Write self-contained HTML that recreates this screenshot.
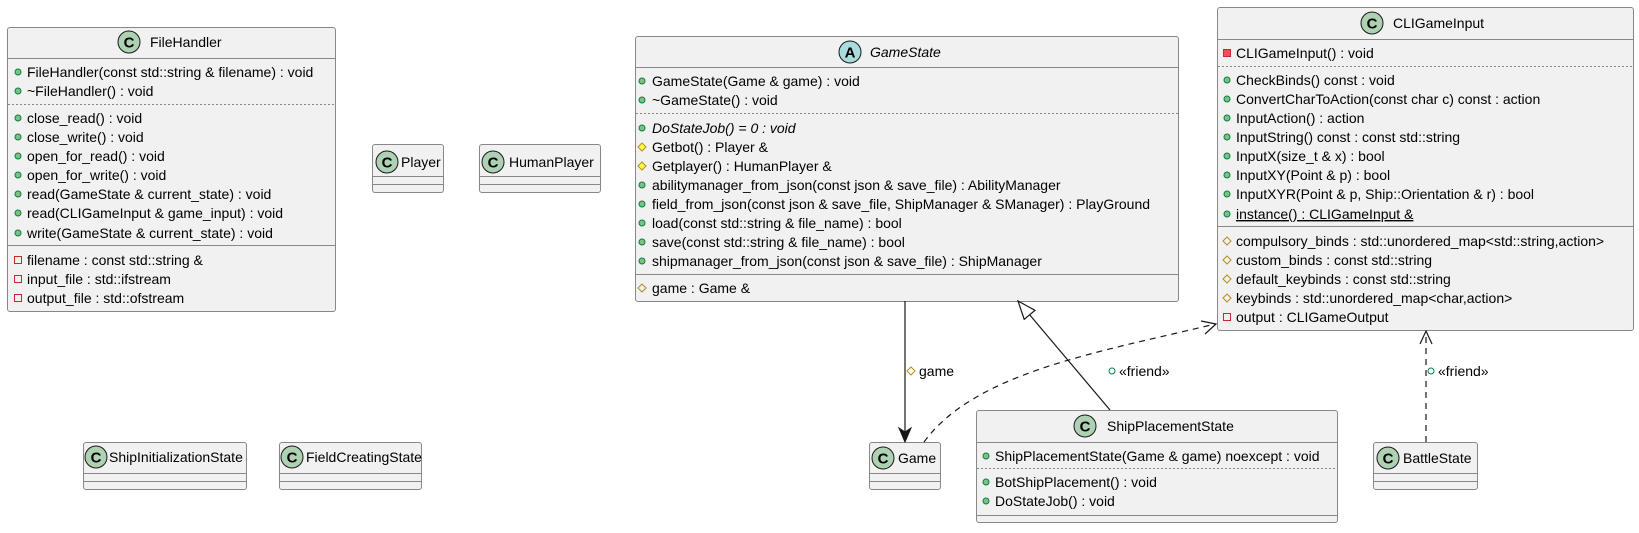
<!DOCTYPE html>
<html><head><meta charset="utf-8"><style>
html,body{margin:0;padding:0;background:#fff;}
svg text{font-family:"Liberation Sans","DejaVu Sans",sans-serif;font-size:14px;fill:#000;}
.t{font-size:14px;}
</style></head><body>
<svg width="1639" height="528" viewBox="0 0 1639 528" xmlns="http://www.w3.org/2000/svg">
<defs>
<g id="pub"><circle r="3" fill="#84BE84" stroke="#038048" stroke-width="1"/></g>
<g id="prom"><polygon points="0,-4 4,0 0,4 -4,0" fill="#FFFF44" stroke="#B38D22" stroke-width="1"/></g>
<g id="prof"><polygon points="0,-4 4,0 0,4 -4,0" fill="none" stroke="#B38D22" stroke-width="1"/></g>
<g id="privm"><rect x="-3.5" y="-3.5" width="7" height="7" fill="#F24D5C" stroke="#C82930" stroke-width="1"/></g>
<g id="privf"><rect x="-3.5" y="-3.5" width="7" height="7" fill="none" stroke="#C82930" stroke-width="1"/></g>
<g id="cC"><circle r="11" fill="#ADD1B2" stroke="#181818" stroke-width="1"/><text x="0" y="5.5" text-anchor="middle" style="font-weight:bold;font-size:15px">C</text></g>
<g id="cA"><circle r="11" fill="#A9DCDF" stroke="#181818" stroke-width="1"/><text x="0" y="5.5" text-anchor="middle" style="font-weight:bold;font-size:15px">A</text></g>
</defs>
<g fill="#F1F1F1" stroke="#888" stroke-width="1">
<rect x="7.5" y="27.5" width="328" height="284" rx="2.5"/>
<rect x="372.5" y="144.5" width="71" height="48" rx="2.5"/>
<rect x="479.5" y="144.5" width="121" height="48" rx="2.5"/>
<rect x="635.5" y="36.5" width="543" height="265" rx="2.5"/>
<rect x="1217.5" y="7.5" width="416" height="323" rx="2.5"/>
<rect x="83.5" y="442.5" width="163" height="47" rx="2.5"/>
<rect x="279.5" y="442.5" width="142" height="47" rx="2.5"/>
<rect x="869.5" y="442.5" width="71" height="47" rx="2.5"/>
<rect x="976.5" y="410.5" width="361" height="112" rx="2.5"/>
<rect x="1373.5" y="442.5" width="104" height="47" rx="2.5"/>
</g>
<g stroke="#888" stroke-width="1">
<line x1="8" y1="58.5" x2="335" y2="58.5"/><line x1="8" y1="245.5" x2="335" y2="245.5"/>
<line x1="8" y1="104.5" x2="335" y2="104.5" stroke-dasharray="2,2"/>
<line x1="373" y1="176.5" x2="443" y2="176.5"/><line x1="373" y1="184.5" x2="443" y2="184.5"/>
<line x1="480" y1="176.5" x2="600" y2="176.5"/><line x1="480" y1="184.5" x2="600" y2="184.5"/>
<line x1="636" y1="67.5" x2="1178" y2="67.5"/><line x1="636" y1="274.5" x2="1178" y2="274.5"/>
<line x1="636" y1="113.5" x2="1178" y2="113.5" stroke-dasharray="2,2"/>
<line x1="1218" y1="39.5" x2="1633" y2="39.5"/><line x1="1218" y1="226.5" x2="1633" y2="226.5"/>
<line x1="1218" y1="66.5" x2="1633" y2="66.5" stroke-dasharray="2,2"/>
<line x1="84" y1="473.5" x2="246" y2="473.5"/><line x1="84" y1="481.5" x2="246" y2="481.5"/>
<line x1="280" y1="473.5" x2="421" y2="473.5"/><line x1="280" y1="481.5" x2="421" y2="481.5"/>
<line x1="870" y1="473.5" x2="940" y2="473.5"/><line x1="870" y1="481.5" x2="940" y2="481.5"/>
<line x1="1374" y1="473.5" x2="1477" y2="473.5"/><line x1="1374" y1="481.5" x2="1477" y2="481.5"/>
<line x1="977" y1="442.5" x2="1337" y2="442.5"/><line x1="977" y1="515.5" x2="1337" y2="515.5"/>
<line x1="977" y1="468.5" x2="1337" y2="468.5" stroke-dasharray="2,2"/>
</g>

<use href="#cC" x="129" y="42"/><text class="t" x="150" y="47">FileHandler</text>
<use href="#pub" x="18" y="72"/><text x="27" y="77">FileHandler(const std::string &amp; filename) : void</text>
<use href="#pub" x="18" y="91"/><text x="27" y="96">~FileHandler() : void</text>
<use href="#pub" x="18" y="118"/><text x="27" y="123">close_read() : void</text>
<use href="#pub" x="18" y="137"/><text x="27" y="142">close_write() : void</text>
<use href="#pub" x="18" y="156"/><text x="27" y="161">open_for_read() : void</text>
<use href="#pub" x="18" y="175"/><text x="27" y="180">open_for_write() : void</text>
<use href="#pub" x="18" y="194"/><text x="27" y="199">read(GameState &amp; current_state) : void</text>
<use href="#pub" x="18" y="213"/><text x="27" y="218">read(CLIGameInput &amp; game_input) : void</text>
<use href="#pub" x="18" y="233"/><text x="27" y="238">write(GameState &amp; current_state) : void</text>
<use href="#privf" x="18" y="260"/><text x="27" y="265">filename : const std::string &amp;</text>
<use href="#privf" x="18" y="279"/><text x="27" y="284">input_file : std::ifstream</text>
<use href="#privf" x="18" y="298"/><text x="27" y="303">output_file : std::ofstream</text>

<use href="#cC" x="387" y="162"/><text class="t" x="401" y="167">Player</text>
<use href="#cC" x="493" y="162"/><text class="t" x="509" y="167">HumanPlayer</text>
<use href="#cC" x="96" y="457"/><text class="t" x="109" y="462">ShipInitializationState</text>
<use href="#cC" x="292" y="457"/><text class="t" x="306" y="462">FieldCreatingState</text>
<use href="#cC" x="883" y="458"/><text class="t" x="898" y="463">Game</text>
<use href="#cC" x="1388" y="458"/><text class="t" x="1403" y="463">BattleState</text>

<use href="#cA" x="850" y="52"/><text class="t" x="870" y="57" font-style="italic">GameState</text>
<use href="#pub" x="642" y="81"/><text x="652" y="86">GameState(Game &amp; game) : void</text>
<use href="#pub" x="642" y="100"/><text x="652" y="105">~GameState() : void</text>
<use href="#pub" x="642" y="128"/><text x="652" y="133" font-style="italic">DoStateJob() = 0 : void</text>
<use href="#prom" x="642" y="147"/><text x="652" y="152">Getbot() : Player &amp;</text>
<use href="#prom" x="642" y="166"/><text x="652" y="171">Getplayer() : HumanPlayer &amp;</text>
<use href="#pub" x="642" y="185"/><text x="652" y="190">abilitymanager_from_json(const json &amp; save_file) : AbilityManager</text>
<use href="#pub" x="642" y="204"/><text x="652" y="209">field_from_json(const json &amp; save_file, ShipManager &amp; SManager) : PlayGround</text>
<use href="#pub" x="642" y="223"/><text x="652" y="228">load(const std::string &amp; file_name) : bool</text>
<use href="#pub" x="642" y="242"/><text x="652" y="247">save(const std::string &amp; file_name) : bool</text>
<use href="#pub" x="642" y="261"/><text x="652" y="266">shipmanager_from_json(const json &amp; save_file) : ShipManager</text>
<use href="#prof" x="642" y="288"/><text x="652" y="293">game : Game &amp;</text>

<use href="#cC" x="1372" y="23"/><text class="t" x="1393" y="28">CLIGameInput</text>
<use href="#privm" x="1227" y="53"/><text x="1236" y="58">CLIGameInput() : void</text>
<use href="#pub" x="1227" y="80"/><text x="1236" y="85">CheckBinds() const : void</text>
<use href="#pub" x="1227" y="99"/><text x="1236" y="104">ConvertCharToAction(const char c) const : action</text>
<use href="#pub" x="1227" y="118"/><text x="1236" y="123">InputAction() : action</text>
<use href="#pub" x="1227" y="137"/><text x="1236" y="142">InputString() const : const std::string</text>
<use href="#pub" x="1227" y="156"/><text x="1236" y="161">InputX(size_t &amp; x) : bool</text>
<use href="#pub" x="1227" y="175"/><text x="1236" y="180">InputXY(Point &amp; p) : bool</text>
<use href="#pub" x="1227" y="194"/><text x="1236" y="199">InputXYR(Point &amp; p, Ship::Orientation &amp; r) : bool</text>
<use href="#pub" x="1227" y="214"/><text x="1236" y="219" text-decoration="underline">instance() : CLIGameInput &amp;</text>
<use href="#prof" x="1227" y="241"/><text x="1236" y="246">compulsory_binds : std::unordered_map&lt;std::string,action&gt;</text>
<use href="#prof" x="1227" y="260"/><text x="1236" y="265">custom_binds : const std::string</text>
<use href="#prof" x="1227" y="279"/><text x="1236" y="284">default_keybinds : const std::string</text>
<use href="#prof" x="1227" y="298"/><text x="1236" y="303">keybinds : std::unordered_map&lt;char,action&gt;</text>
<use href="#privf" x="1227" y="317"/><text x="1236" y="322">output : CLIGameOutput</text>

<use href="#cC" x="1085" y="426"/><text class="t" x="1107" y="431">ShipPlacementState</text>
<use href="#pub" x="986" y="456"/><text x="995" y="461">ShipPlacementState(Game &amp; game) noexcept : void</text>
<use href="#pub" x="986" y="482"/><text x="995" y="487">BotShipPlacement() : void</text>
<use href="#pub" x="986" y="501"/><text x="995" y="506">DoStateJob() : void</text>

<g stroke="#181818" stroke-width="1.2" fill="none">
<line x1="905" y1="301" x2="905" y2="438"/>
<line x1="1029.6" y1="314.8" x2="1110" y2="410"/>
<path d="M924,442 C975,372 1100,352 1215,324" stroke-dasharray="6,5"/>
<line x1="1426" y1="442" x2="1426" y2="332" stroke-dasharray="6,5"/>
<polyline points="1420,344 1426,331 1432,344"/>
<polyline points="1201,321 1216,324 1205,334"/>
</g>
<polygon points="905,442 899,428 905,432 911,428" fill="#181818" stroke="#181818"/>
<polygon points="1018,301 1024.2,319.3 1035,310.3" fill="#fff" stroke="#181818" stroke-width="1.2"/>
<use href="#prof" x="911" y="371"/><text x="919" y="376">game</text>
<circle cx="1112" cy="371" r="3" fill="none" stroke="#038048"/><text x="1119" y="376">«friend»</text>
<circle cx="1431" cy="371" r="3" fill="none" stroke="#038048"/><text x="1438" y="376">«friend»</text>
</svg>
</body></html>
